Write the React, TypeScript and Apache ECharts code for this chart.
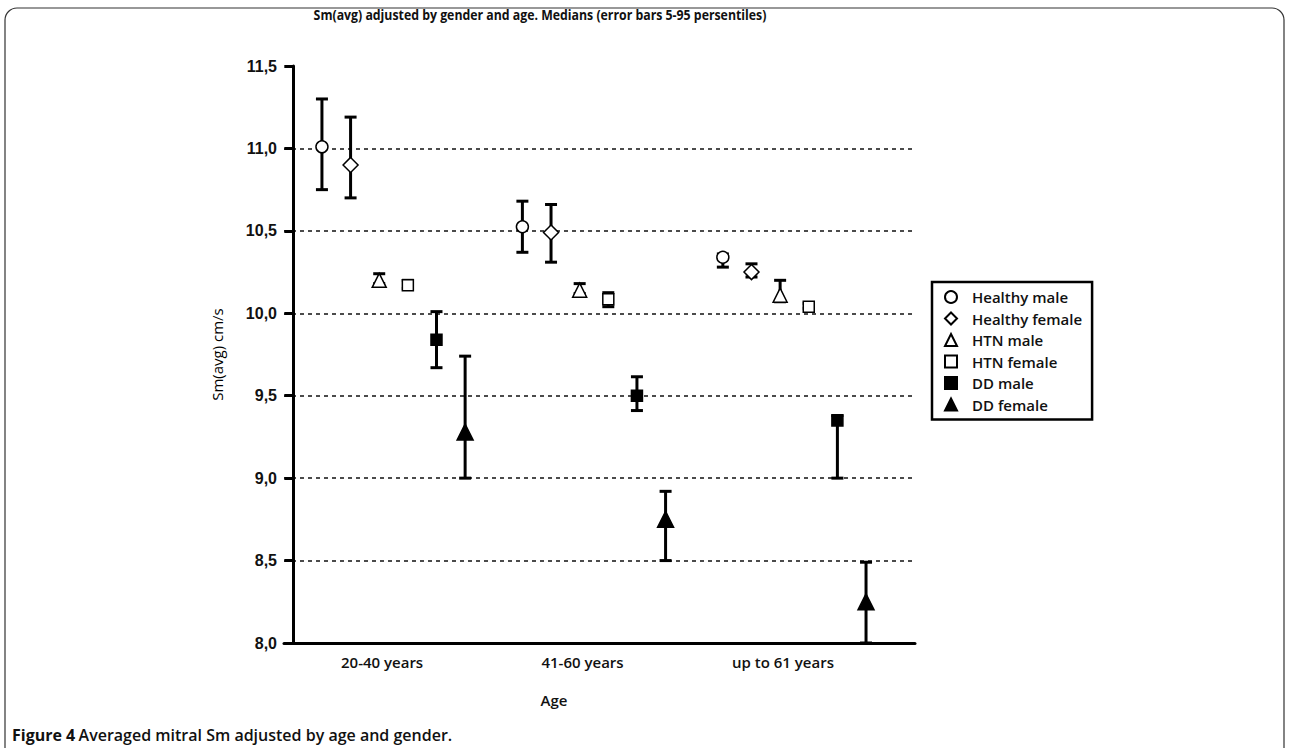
import React, { useEffect, useRef } from "react";
import * as echarts from "echarts";

const categories = ["20-40 years", "41-60 years", "up to 61 years"];
const seriesNames = ["Healthy male", "Healthy female", "HTN male", "HTN female", "DD male", "DD female"];

const healthyMaleMedian = [11.01, 10.525, 10.34];
const healthyMaleP5 = [10.75, 10.37, 10.28];
const healthyMaleP95 = [11.3, 10.68, 10.36];

const healthyFemaleMedian = [10.9, 10.49, 10.25];
const healthyFemaleP5 = [10.7, 10.31, 10.22];
const healthyFemaleP95 = [11.19, 10.66, 10.3];

const htnMaleMedian = [10.2, 10.14, 10.11];
const htnMaleP5 = [10.18, 10.12, 10.07];
const htnMaleP95 = [10.24, 10.18, 10.2];

const htnFemaleMedian = [10.17, 10.085, 10.04];
const htnFemaleP5 = [10.15, 10.04, 10.03];
const htnFemaleP95 = [10.2, 10.125, 10.06];

const ddMaleMedian = [9.84, 9.5, 9.35];
const ddMaleP5 = [9.67, 9.41, 9.0];
const ddMaleP95 = [10.01, 9.615, 9.38];

const ddFemaleMedian = [9.28, 8.75, 8.25];
const ddFemaleP5 = [9.0, 8.5, 8.0];
const ddFemaleP95 = [9.74, 8.92, 8.49];

const yTicks = [8.0, 8.5, 9.0, 9.5, 10.0, 10.5, 11.0, 11.5];

const medians = [healthyMaleMedian, healthyFemaleMedian, htnMaleMedian, htnFemaleMedian, ddMaleMedian, ddFemaleMedian];
const p5s = [healthyMaleP5, healthyFemaleP5, htnMaleP5, htnFemaleP5, ddMaleP5, ddFemaleP5];
const p95s = [healthyMaleP95, healthyFemaleP95, htnMaleP95, htnFemaleP95, ddMaleP95, ddFemaleP95];

const symbols = ["circle", "diamond", "triangle", "rect", "rect", "triangle"];
const symbolSizes = [12, 15, 14, 11, 11, 16];
const fills = ["#fff", "#fff", "#fff", "#fff", "#000", "#000"];

const GROUP_STRIDE = 7;
const xPos = (g: number, s: number) => g * GROUP_STRIDE + s + 1;
const groupLabelPos = (g: number) => g * GROUP_STRIDE + 3.5 - 0.4;

export default function App() {
  const ref = useRef<HTMLDivElement>(null);

  useEffect(() => {
    if (!ref.current) return;
    const chart = echarts.init(ref.current, null, { renderer: "svg" });

    const errData: number[][] = [];
    seriesNames.forEach((_, s) => {
      categories.forEach((_, g) => {
        errData.push([xPos(g, s), p5s[s][g], p95s[s][g]]);
      });
    });

    const scatterSeries = seriesNames.map((name, s) => ({
      type: "scatter",
      name,
      symbol: symbols[s],
      symbolSize: symbolSizes[s],
      z: 5,
      itemStyle: { color: fills[s], borderColor: "#000", borderWidth: 1.5, opacity: 1 },
      data: categories.map((_, g) => [xPos(g, s), medians[s][g]]),
    }));

    const labelValues = categories.map((_, g) => groupLabelPos(g));

    const option: any = {
      animation: false,
      backgroundColor: "#fff",
      grid: { left: 284, right: 375, top: 66, bottom: 105, outerBoundsMode: "none" },
      xAxis: {
        type: "value",
        min: -0.325,
        max: 21.71,
        axisLine: { show: true, onZero: false, lineStyle: { color: "#000", width: 3 } },
        axisTick: { show: false },
        splitLine: { show: false },
        axisLabel: {
          customValues: labelValues,
          margin: 11,
          fontSize: 15,
          fontFamily: "Open Sans",
          fontWeight: 600,
          color: "#111",
          formatter: (v: number) => {
            let best = 0;
            labelValues.forEach((lv, i) => {
              if (Math.abs(lv - v) < Math.abs(labelValues[best] - v)) best = i;
            });
            return categories[best];
          },
        },
      },
      yAxis: {
        type: "value",
        min: yTicks[0],
        max: yTicks[yTicks.length - 1],
        interval: 0.5,
        name: "Sm(avg) cm/s",
        nameLocation: "middle",
        nameRotate: 90,
        nameGap: 60,
        nameTextStyle: { fontSize: 15, fontFamily: "Open Sans", color: "#000" },
        axisLine: { show: true, lineStyle: { color: "#000", width: 3 } },
        axisTick: { show: true, length: 9, lineStyle: { color: "#000", width: 3 } },
        axisLabel: {
          margin: 7,
          fontSize: 16,
          fontWeight: "bold",
          fontFamily: "Liberation Sans",
          color: "#111",
          formatter: (v: number) => v.toFixed(1).replace(".", ","),
        },
        splitLine: {
          show: true,
          showMinLine: false,
          showMaxLine: false,
          lineStyle: { color: "#111", width: 1.5, type: [4, 4] },
        },
      },
      legend: {
        orient: "vertical",
        left: 932,
        top: 282,
        data: seriesNames,
        itemWidth: 12,
        itemHeight: 12,
        itemGap: 3.5,
        padding: [6, 10, 6, 12],
        borderColor: "#000",
        borderWidth: 2.5,
        selectedMode: false,
        textStyle: {
          fontSize: 15,
          fontFamily: "Open Sans",
          fontWeight: 600,
          color: "#111",
          lineHeight: 18,
          padding: [0, 0, 0, 10],
        },
      },
      graphic: [
        {
          type: "rect",
          shape: { x: 5, y: 8, width: 1279, height: 800, r: 12 },
          style: { fill: "none", stroke: "#333", lineWidth: 1.2 },
          z: -10,
          silent: true,
        },
        {
          type: "text",
          x: 540,
          y: 15,
          scaleX: 0.88,
          style: {
            text: "Sm(avg) adjusted by gender and age. Medians (error bars 5-95 persentiles)",
            fontSize: 14,
            fontWeight: "bold",
            fontFamily: "Open Sans",
            fill: "#111",
            align: "center",
            verticalAlign: "middle",
          },
        },
        {
          type: "text",
          x: 554,
          y: 700,
          style: {
            text: "Age",
            fontSize: 15,
            fontWeight: 600,
            fontFamily: "Open Sans",
            fill: "#111",
            align: "center",
            verticalAlign: "middle",
          },
        },
        {
          type: "text",
          x: 12,
          y: 735,
          style: {
            text: "{b|Figure 4} {r|Averaged mitral Sm adjusted by age and gender.}",
            verticalAlign: "middle",
            rich: {
              b: { fontSize: 16, fontWeight: "bold", fontFamily: "Open Sans", fill: "#111" },
              r: { fontSize: 16, fontWeight: 600, fontFamily: "Open Sans", fill: "#111" },
            },
          },
        },
      ],
      series: [
        {
          type: "custom",
          name: "error bars",
          z: 2,
          clip: false,
          renderItem: (params: any, api: any) => {
            const x = api.value(0);
            const lo = api.coord([x, api.value(1)]);
            const hi = api.coord([x, api.value(2)]);
            const cw = 6;
            const style = { stroke: "#000", lineWidth: 3 };
            return {
              type: "group",
              children: [
                { type: "line", shape: { x1: lo[0], y1: lo[1], x2: hi[0], y2: hi[1] }, style },
                { type: "line", shape: { x1: lo[0] - cw, y1: lo[1], x2: lo[0] + cw, y2: lo[1] }, style },
                { type: "line", shape: { x1: hi[0] - cw, y1: hi[1], x2: hi[0] + cw, y2: hi[1] }, style },
              ],
            };
          },
          data: errData,
        },
        ...scatterSeries,
      ],
    };

    chart.setOption(option);
    return () => chart.dispose();
  }, []);

  return (
    <div
      ref={ref}
      style={{ position: "fixed", left: 0, top: 0, width: 1290, height: 748, background: "#fff" }}
    />
  );
}
